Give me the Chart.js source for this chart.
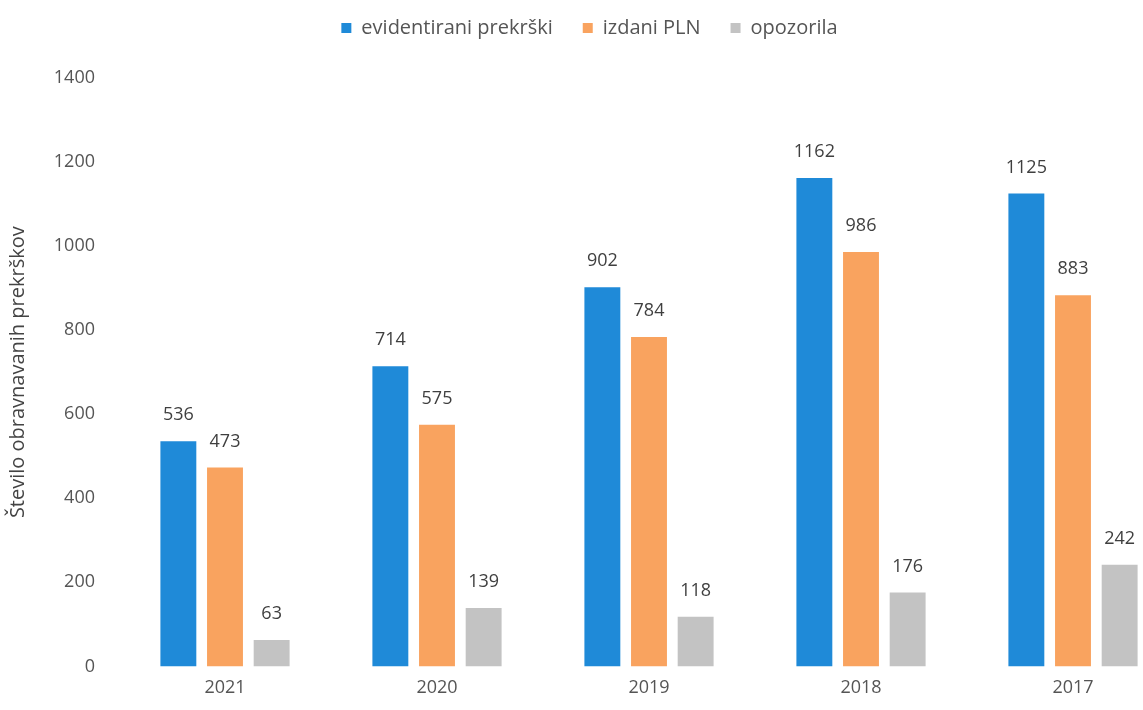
<!DOCTYPE html>
<html>
<head>
<meta charset="utf-8">
<script src="https://cdn.jsdelivr.net/npm/chart.js@4"></script>
<style>
  html, body { margin: 0; padding: 0; background: #fff; overflow: hidden; }
  #wrap { width: 1181px; height: 710px; }
</style>
</head>
<body>
<div id="wrap"><canvas id="chart" width="1181" height="710"></canvas></div>
<script>
const years = ['2021', '2020', '2019', '2018', '2017'];
const evidentirani = [536, 714, 902, 1162, 1125];
const izdaniPLN = [473, 575, 784, 986, 883];
const opozorila = [63, 139, 118, 176, 242];
const yTicks = [0, 200, 400, 600, 800, 1000, 1200, 1400];

const FONT = '"Open Sans", sans-serif';

// draws the value above each bar
const barLabels = {
  id: 'barLabels',
  afterDatasetsDraw(chart) {
    const ctx = chart.ctx;
    ctx.save();
    ctx.font = '18px ' + FONT;
    ctx.fillStyle = '#3f3f3f';
    ctx.textAlign = 'center';
    ctx.textBaseline = 'middle';
    chart.data.datasets.forEach((ds, i) => {
      chart.getDatasetMeta(i).data.forEach((bar, j) => {
        ctx.fillText(ds.data[j], bar.x, bar.y - 26);
      });
    });
    ctx.restore();
  }
};

// extra room under the legend
const legendGap = {
  id: 'legendGap',
  beforeInit(chart) {
    const fit = chart.legend.fit;
    chart.legend.fit = function () {
      fit.bind(chart.legend)();
      this.height += 30;
    };
  }
};

new Chart(document.getElementById('chart'), {
  type: 'bar',
  data: {
    labels: years,
    datasets: [
      { label: 'evidentirani prekrški', data: evidentirani, backgroundColor: '#1f8ad8' },
      { label: 'izdani PLN', data: izdaniPLN, backgroundColor: '#f9a35f' },
      { label: 'opozorila', data: opozorila, backgroundColor: '#c3c3c3' }
    ]
  },
  options: {
    responsive: false,
    animation: false,
    devicePixelRatio: 1,
    categoryPercentage: 0.66,
    barPercentage: 0.77,
    layout: { padding: { top: -12, right: 2, bottom: 0, left: 0 } },
    plugins: {
      legend: {
        position: 'top',
        labels: {
          boxWidth: 10,
          boxHeight: 10,
          padding: 30,
          color: '#555',
          font: { family: FONT, size: 20 }
        }
      },
      title: { display: false },
      tooltip: { enabled: false }
    },
    scales: {
      x: {
        grid: { display: false, drawTicks: false },
        border: { display: false },
        ticks: { color: '#555', padding: 11, font: { family: FONT, size: 18 } }
      },
      y: {
        min: 0,
        max: 1400,
        afterBuildTicks(scale) { scale.ticks = yTicks.map(v => ({ value: v })); },
        afterFit(scale) { scale.width = 119; },
        grid: { display: false, drawTicks: false },
        border: { display: false },
        ticks: {
          color: '#555',
          padding: 24,
          font: { family: FONT, size: 18 },
          callback: v => String(v)
        },
        title: {
          display: true,
          text: 'Število obravnavanih prekrškov',
          color: '#444',
          font: { family: FONT, size: 20 },
          padding: { top: 6, bottom: 0 }
        }
      }
    }
  },
  plugins: [barLabels, legendGap]
});
</script>
</body>
</html>
